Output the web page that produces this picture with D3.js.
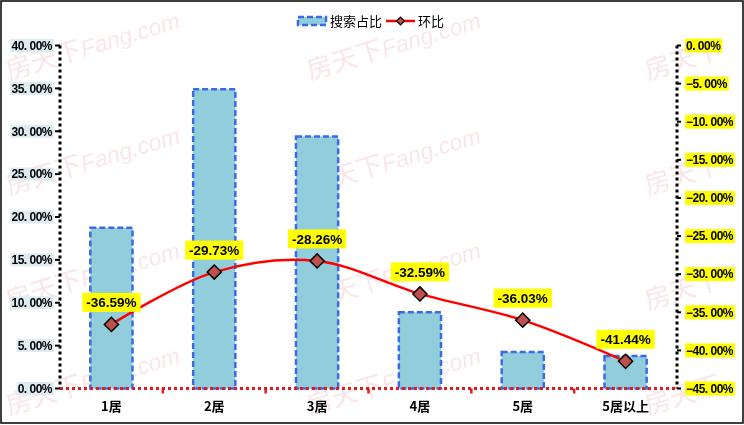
<!DOCTYPE html>
<html><head><meta charset="utf-8">
<script src="https://cdn.jsdelivr.net/npm/d3@7"></script>
<style>body{margin:0;background:#fff}svg{display:block}</style>
</head><body>
<script>
const categories = ["1居","2居","3居","4居","5居","5居以上"];
const shareValues = [18.75, 34.9, 29.4, 8.9, 4.25, 3.8];
const momValues = [-36.59, -29.73, -28.26, -32.59, -36.03, -41.44];
const leftTicks = [0,5,10,15,20,25,30,35,40];
const rightTicks = [0,-5,-10,-15,-20,-25,-30,-35,-40,-45];
const seriesNames = ["搜索占比","环比"];

const W = 744, H = 425;
const svg = d3.select("body").append("svg").attr("width", W).attr("height", H);
const font = "'Liberation Sans', Arial, 'Noto Sans CJK SC', sans-serif";
const cjk = "'Noto Sans CJK SC', 'Liberation Sans', sans-serif";

// watermark
const wmCols = [9, 310, 648], wmRows = [80, 195, 310, 415];
const wm = svg.append("g").attr("fill", "#f0c0c7").attr("opacity", 0.4);
wmRows.forEach(y => wmCols.forEach((x, ci) => {
  const t = wm.append("text").attr("transform", `translate(${x},${y}) rotate(-17)`)
    .attr("font-family", cjk).attr("font-size", 26);
  t.append("tspan").text("房天下");
  if (ci < 2) t.append("tspan").attr("font-family", font).attr("font-style", "italic").attr("font-size", 23).text("Fang.com");
}));

const x = d3.scaleBand().domain(categories).range([60, 677]);
const yL = d3.scaleLinear().domain([0, 40]).range([388.5, 45.5]);
const yR = d3.scaleLinear().domain([-45, 0]).range([388.5, 45.5]);

// bars
const bw = x.bandwidth() * 0.41;
svg.append("g").selectAll("rect").data(shareValues).join("rect")
  .attr("x", (d, i) => x(categories[i]) + x.bandwidth()/2 - bw/2)
  .attr("y", d => yL(d))
  .attr("width", bw)
  .attr("height", d => yL(0) - yL(d))
  .attr("fill", "#92cddc")
  .attr("stroke", "#3a6be6").attr("stroke-width", 2.5).attr("stroke-dasharray", "6,3");

// left axis
const gl = svg.append("g");
gl.append("line").attr("x1", 60).attr("x2", 60).attr("y1", yL(40)).attr("y2", yL(0))
  .attr("stroke", "#000").attr("stroke-width", 3).attr("stroke-dasharray", "3,3");
leftTicks.forEach(t => {
  const y = yL(t);
  gl.append("line").attr("x1", 55).attr("x2", 60).attr("y1", y).attr("y2", y).attr("stroke", "#000").attr("stroke-width", 2);
  const txt = gl.append("text").attr("x", 52).attr("y", y + 4.3).attr("text-anchor", "end")
    .attr("font-family", font).attr("font-weight", "bold").attr("font-size", 12).attr("letter-spacing", "-0.5")
    .text(d3.format(".2f")(t).replace(".", ". ") + "%");
  const bb = txt.node().getBBox();
  gl.insert("rect", "text").attr("x", bb.x - 1).attr("y", y - 6.5).attr("width", bb.width + 2).attr("height", 13).attr("fill", "#dcecf1");
});

// right axis
const gr = svg.append("g");
gr.append("line").attr("x1", 677).attr("x2", 677).attr("y1", yR(0)).attr("y2", yR(-45))
  .attr("stroke", "#000").attr("stroke-width", 3).attr("stroke-dasharray", "3,3");
rightTicks.forEach(t => {
  const y = yR(t);
  gr.append("line").attr("x1", 677).attr("x2", 681).attr("y1", y).attr("y2", y).attr("stroke", "#000").attr("stroke-width", 2);
  const s = (t < 0 ? "\u2212" : "") + Math.abs(t).toFixed(2).replace(".", ". ") + "%";
  const txt = gr.append("text").attr("x", 686).attr("y", y + 4.3)
    .attr("font-family", font).attr("font-weight", "bold").attr("font-size", 12).attr("letter-spacing", "-0.5")
    .text(s);
  const bb = txt.node().getBBox();
  gr.insert("rect", "text").attr("x", 685).attr("y", y - 7).attr("width", bb.width + 2).attr("height", 14).attr("fill", "#ffff00");
});

// x axis
const gx = svg.append("g");
gx.append("line").attr("x1", 60).attr("x2", 677).attr("y1", yL(0)).attr("y2", yL(0))
  .attr("stroke", "#e31a1c").attr("stroke-width", 3).attr("stroke-dasharray", "3,3");
categories.forEach((c, i) => {
  if (i > 0) gx.append("line").attr("x1", x(c)).attr("x2", x(c)).attr("y1", yL(0)).attr("y2", yL(0) + 5)
    .attr("stroke", "#e31a1c").attr("stroke-width", 2.5);
  gx.append("text").attr("x", x(c) + x.bandwidth()/2).attr("y", 411).attr("text-anchor", "middle")
    .attr("font-family", cjk).attr("font-weight", "bold").attr("font-size", 13).text(c);
});

// line
const pts = momValues.map((v, i) => [x(categories[i]) + x.bandwidth()/2, yR(v)]);
svg.append("path").attr("d", d3.line().curve(d3.curveCatmullRom.alpha(0.5))(pts))
  .attr("fill", "none").attr("stroke", "#ff0000").attr("stroke-width", 2.5);
svg.append("g").selectAll("path").data(pts).join("path")
  .attr("transform", d => `translate(${d[0]},${d[1]}) rotate(45)`)
  .attr("d", d3.symbol().type(d3.symbolSquare).size(100))
  .attr("fill", "#c0504d").attr("stroke", "#000").attr("stroke-width", 1.5);

// data labels
const gd = svg.append("g");
momValues.forEach((v, i) => {
  const [px, py] = pts[i];
  const cy = py - 22;
  const txt = gd.append("text").attr("x", px).attr("y", cy + 4.7).attr("text-anchor", "middle")
    .attr("font-family", font).attr("font-weight", "bold").attr("font-size", 13.5)
    .text(v.toFixed(2) + "%");
  const bb = txt.node().getBBox();
  gd.insert("rect", "text").attr("x", px - bb.width/2 - 4).attr("y", cy - 9.5).attr("width", bb.width + 8).attr("height", 19).attr("fill", "#ffff00");
});

// legend
const lg = svg.append("g");
lg.append("rect").attr("x", 298).attr("y", 17).attr("width", 28).attr("height", 8)
  .attr("fill", "#92cddc").attr("stroke", "#3a6be6").attr("stroke-width", 2.5).attr("stroke-dasharray", "6,3");
lg.append("text").attr("x", 330).attr("y", 26).attr("font-family", cjk).attr("font-size", 13).text(seriesNames[0]);
lg.append("line").attr("x1", 386).attr("x2", 415).attr("y1", 21).attr("y2", 21).attr("stroke", "#ff0000").attr("stroke-width", 2.5);
lg.append("path").attr("transform", "translate(400.5,21) rotate(45)").attr("d", d3.symbol().type(d3.symbolSquare).size(30))
  .attr("fill", "#c0504d").attr("stroke", "#000").attr("stroke-width", 1.2);
lg.append("text").attr("x", 418).attr("y", 26).attr("font-family", cjk).attr("font-size", 13).text(seriesNames[1]);

// border
svg.append("rect").attr("x", 1).attr("y", 1).attr("width", W - 2).attr("height", 422)
  .attr("fill", "none").attr("stroke", "#000").attr("stroke-width", 1.5);
</script>
</body></html>
